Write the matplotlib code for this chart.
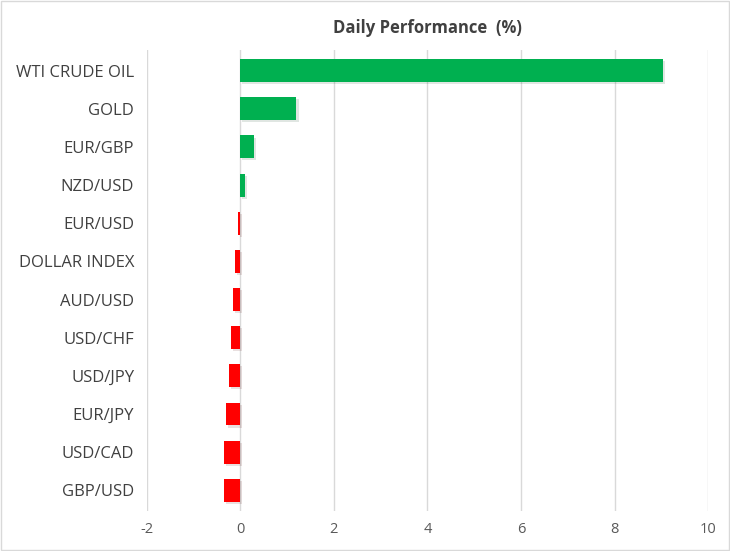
import matplotlib.pyplot as plt
import matplotlib.patheffects as pe

labels = ['WTI CRUDE OIL', 'GOLD', 'EUR/GBP', 'NZD/USD', 'EUR/USD', 'DOLLAR INDEX',
          'AUD/USD', 'USD/CHF', 'USD/JPY', 'EUR/JPY', 'USD/CAD', 'GBP/USD']
values = [9.04, 1.2, 0.29, 0.1, -0.05, -0.11, -0.16, -0.19, -0.24, -0.3, -0.34, -0.34]

plt.rcParams['font.family'] = ['Open Sans', 'DejaVu Sans']
plt.rcParams['axes.unicode_minus'] = False
fig = plt.figure(figsize=(7.3, 5.51), dpi=100)
ax = fig.add_axes([0.201, 0.072, 0.769, 0.838])
colors = ['#00b050' if v >= 0 else '#ff0000' for v in values]
y = list(range(len(labels)))[::-1]
bars = ax.barh(y, values, height=0.6, color=colors, zorder=3)
for b in bars:
    b.set_path_effects([pe.SimplePatchShadow(offset=(1.5, -1.5), alpha=0.12), pe.Normal()])
ax.set_yticks(y)
ax.set_yticklabels(labels, fontsize=12, color='#404040')
ax.set_xlim(-2, 10)
ax.set_xticks([-2, 0, 2, 4, 6, 8, 10])
ax.tick_params(axis='x', labelsize=10.5, colors='#595959', length=0, pad=8)
ax.tick_params(axis='y', length=0, pad=9)
ax.set_ylim(-0.55, len(labels) - 0.45)
ax.grid(axis='x', color='#d9d9d9', lw=1, zorder=0)
for s in ax.spines.values():
    s.set_visible(False)
ax.set_title('Daily Performance  (%)', fontsize=12, fontweight='bold', color='#404040', pad=12)
fig.patches.append(plt.Rectangle((0.001, 0.001), 0.998, 0.998, transform=fig.transFigure,
                                 fill=False, edgecolor='#d9d9d9', lw=1))
fig.savefig('out.png')
